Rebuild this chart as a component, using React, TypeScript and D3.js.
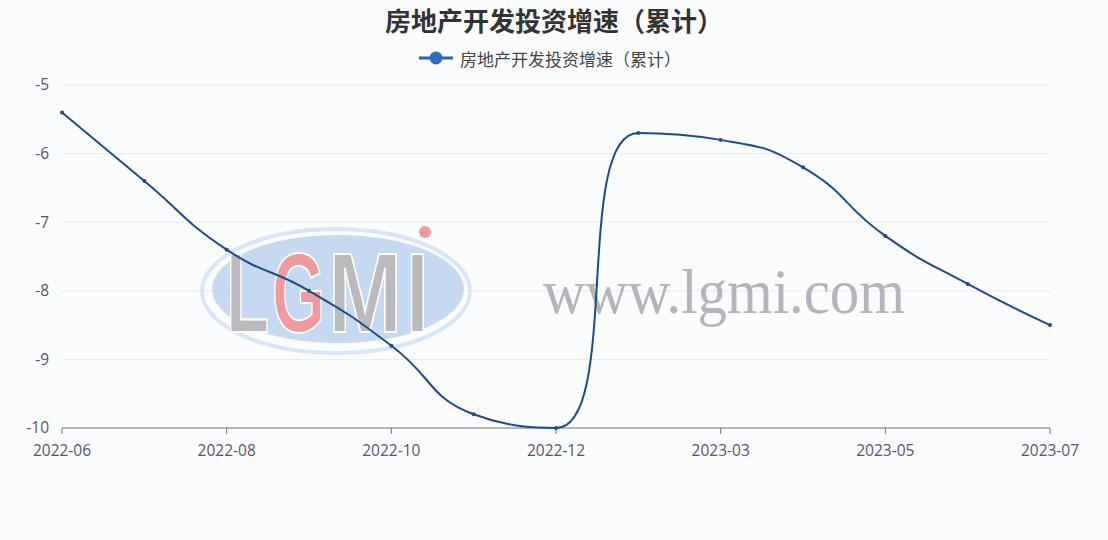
import React, { useRef, useEffect } from "react";
import * as d3 from "d3";

const months = [
  "2022-06", "2022-07", "2022-08", "2022-09", "2022-10", "2022-11", "2022-12",
  "2023-02", "2023-03", "2023-04", "2023-05", "2023-06", "2023-07",
];
const growth = [-5.4, -6.4, -7.4, -8.0, -8.8, -9.8, -10.0, -5.7, -5.8, -6.2, -7.2, -7.9, -8.5];
const yTicks = [-5, -6, -7, -8, -9, -10];
const seriesName = "房地产开发投资增速（累计）";

const W = 1108;
const H = 540;
const margin = { top: 85, right: 58, bottom: 112, left: 62 };

// echarts-style smoothing (smooth = 0.5) as a d3 curve
const smoothCurve = (smooth: number) => (context: any) => {
  let pts: [number, number][] = [];
  return {
    areaStart() {},
    areaEnd() {},
    lineStart() {
      pts = [];
    },
    point(x: number, y: number) {
      pts.push([+x, +y]);
    },
    lineEnd() {
      const n = pts.length;
      if (!n) return;
      let cpx0 = pts[0][0];
      let cpy0 = pts[0][1];
      context.moveTo(cpx0, cpy0);
      for (let i = 1; i < n; i++) {
        const [x, y] = pts[i];
        const [prevX, prevY] = pts[i - 1];
        let cpx1 = x;
        let cpy1 = y;
        let nextCpx0 = x;
        let nextCpy0 = y;
        if (i < n - 1) {
          const [nextX, nextY] = pts[i + 1];
          let vx = nextX - prevX;
          let vy = nextY - prevY;
          const dx0 = x - prevX, dy0 = y - prevY;
          const dx1 = nextX - x, dy1 = nextY - y;
          const lenPrev = Math.sqrt(dx0 * dx0 + dy0 * dy0);
          const lenNext = Math.sqrt(dx1 * dx1 + dy1 * dy1);
          const ratio = lenNext / (lenNext + lenPrev);
          nextCpx0 = x + vx * smooth * ratio;
          nextCpy0 = y + vy * smooth * ratio;
          nextCpx0 = Math.max(Math.min(nextCpx0, Math.max(nextX, x)), Math.min(nextX, x));
          nextCpy0 = Math.max(Math.min(nextCpy0, Math.max(nextY, y)), Math.min(nextY, y));
          vx = nextCpx0 - x;
          vy = nextCpy0 - y;
          cpx1 = x - (vx * lenPrev) / lenNext;
          cpy1 = y - (vy * lenPrev) / lenNext;
          cpx1 = Math.max(Math.min(cpx1, Math.max(prevX, x)), Math.min(prevX, x));
          cpy1 = Math.max(Math.min(cpy1, Math.max(prevY, y)), Math.min(prevY, y));
          vx = x - cpx1;
          vy = y - cpy1;
          nextCpx0 = x + (vx * lenNext) / lenPrev;
          nextCpy0 = y + (vy * lenNext) / lenPrev;
        }
        context.bezierCurveTo(cpx0, cpy0, cpx1, cpy1, x, y);
        cpx0 = nextCpx0;
        cpy0 = nextCpy0;
      }
    },
  };
};

// watermark letters: letter, left x, horizontal squeeze, fill
const logoLetters: [string, number, number, string][] = [
  ["L", 226, 0.62, "#b0b0b2"],
  ["G", 272, 0.6, "#ee8a8e"],
  ["M", 328, 0.78, "#b0b0b2"],
  ["I", 406, 0.72, "#b0b0b2"],
];

const App: React.FC = () => {
  const svgRef = useRef<SVGSVGElement | null>(null);

  useEffect(() => {
    const svg = d3.select(svgRef.current);
    svg.selectAll("*").remove();

    svg.append("rect").attr("width", W).attr("height", H).attr("fill", "#fbfcfd");

    const x = d3.scalePoint<string>().domain(months).range([margin.left, W - margin.right]);
    const y = d3.scaleLinear().domain([-10, -5]).range([H - margin.bottom, margin.top]);

    // grid
    svg.append("g")
      .selectAll("line")
      .data(yTicks.filter((t) => t !== -10))
      .enter()
      .append("line")
      .attr("x1", margin.left)
      .attr("x2", W - margin.right)
      .attr("y1", (d) => y(d))
      .attr("y2", (d) => y(d))
      .attr("stroke", "#e6ebf2")
      .attr("stroke-width", 1);

    // watermark logo
    const wm = svg.append("g").attr("opacity", 0.85);
    wm.append("ellipse")
      .attr("cx", 336).attr("cy", 291).attr("rx", 134).attr("ry", 62)
      .attr("fill", "none").attr("stroke", "#d3e2f3").attr("stroke-width", 4);
    wm.append("ellipse")
      .attr("cx", 338).attr("cy", 289).attr("rx", 126).attr("ry", 54)
      .attr("fill", "#bcd4ee");
    wm.selectAll("text.logo")
      .data(logoLetters)
      .enter()
      .append("text")
      .attr("class", "logo")
      .attr("transform", (d) => `translate(${d[1]},332) scale(${d[2]},1)`)
      .attr("font-family", "Liberation Sans, Arial, sans-serif")
      .attr("font-weight", "bold")
      .attr("font-size", 114)
      .attr("fill", (d) => d[3])
      .attr("stroke", "#ffffff")
      .attr("stroke-width", 2)
      .text((d) => d[0]);
    wm.append("circle").attr("cx", 425).attr("cy", 232).attr("r", 6).attr("fill", "#ee8a8e");

    svg.append("text")
      .attr("x", 543).attr("y", 313)
      .attr("font-family", "Liberation Serif, DejaVu Serif, serif")
      .attr("font-size", 64)
      .attr("textLength", 362)
      .attr("lengthAdjust", "spacingAndGlyphs")
      .attr("fill", "#b4b4ba")
      .text("www.lgmi.com");

    // x axis
    const xAxisY = y(-10);
    svg.append("line")
      .attr("x1", margin.left).attr("x2", W - margin.right)
      .attr("y1", xAxisY).attr("y2", xAxisY)
      .attr("stroke", "#6e7079").attr("stroke-width", 1);

    const shown = months.filter((_, i) => i % 2 === 0);
    svg.append("g")
      .selectAll("line")
      .data(shown)
      .enter()
      .append("line")
      .attr("x1", (d) => x(d)!)
      .attr("x2", (d) => x(d)!)
      .attr("y1", xAxisY)
      .attr("y2", xAxisY + 6)
      .attr("stroke", "#6e7079");

    svg.append("g")
      .selectAll("text")
      .data(shown)
      .enter()
      .append("text")
      .attr("x", (d) => x(d)!)
      .attr("y", xAxisY + 28)
      .attr("text-anchor", "middle")
      .attr("font-family", "Open Sans, Noto Sans, sans-serif")
      .attr("font-size", 15.5)
      .attr("fill", "#56566e")
      .text((d) => d);

    // y labels
    svg.append("g")
      .selectAll("text")
      .data(yTicks)
      .enter()
      .append("text")
      .attr("x", 49)
      .attr("y", (d) => y(d))
      .attr("dy", "0.35em")
      .attr("text-anchor", "end")
      .attr("font-family", "Open Sans, Noto Sans, sans-serif")
      .attr("font-size", 15.5)
      .attr("fill", "#56566e")
      .text((d) => String(d));

    // line
    const line = d3.line<number>()
      .x((_, i) => x(months[i])!)
      .y((d) => y(d))
      .curve(smoothCurve(0.5) as any);

    svg.append("path")
      .datum(growth)
      .attr("d", line)
      .attr("fill", "none")
      .attr("stroke", "#1d4c8a")
      .attr("stroke-width", 2);

    svg.append("g")
      .selectAll("circle")
      .data(growth)
      .enter()
      .append("circle")
      .attr("cx", (_, i) => x(months[i])!)
      .attr("cy", (d) => y(d))
      .attr("r", 2)
      .attr("fill", "#1d4c8a");

    // title
    svg.append("text")
      .attr("x", 554).attr("y", 19)
      .attr("dominant-baseline", "central")
      .attr("text-anchor", "middle")
      .attr("font-family", "Noto Sans CJK SC, sans-serif")
      .attr("font-weight", "bold")
      .attr("font-size", 26)
      .attr("fill", "#333333")
      .text(seriesName);

    // legend
    const lg = svg.append("g");
    lg.append("line")
      .attr("x1", 419).attr("x2", 453).attr("y1", 58).attr("y2", 58)
      .attr("stroke", "#2a62aa").attr("stroke-width", 3);
    lg.append("circle").attr("cx", 436).attr("cy", 58).attr("r", 6.5).attr("fill", "#2e6cbc");
    lg.append("text")
      .attr("x", 460).attr("y", 58)
      .attr("dominant-baseline", "central")
      .attr("font-family", "Noto Sans CJK SC, sans-serif")
      .attr("font-size", 17)
      .attr("fill", "#444444")
      .text(seriesName);
  }, []);

  return (
    <svg
      ref={svgRef}
      width={W}
      height={H}
      style={{ position: "absolute", left: 0, top: 0, display: "block" }}
    />
  );
};

export default App;
